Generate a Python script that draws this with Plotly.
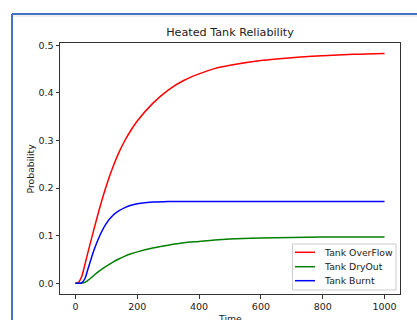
import plotly.graph_objects as go

time = [0, 10, 20, 30, 40, 50, 60, 80, 100, 120, 140, 160, 180, 200, 250, 300,
        350, 400, 450, 500, 600, 700, 800, 900, 1000]
overflow = [0.0, 0.002, 0.014, 0.038, 0.064, 0.089, 0.114, 0.162, 0.205, 0.242, 0.274,
            0.300, 0.322, 0.341, 0.378, 0.406, 0.426, 0.440, 0.451, 0.458, 0.468,
            0.474, 0.478, 0.481, 0.483]
dryout = [0.0, 0.0, 0.0005, 0.002, 0.006, 0.011, 0.017, 0.027, 0.036, 0.044, 0.051,
          0.057, 0.062, 0.066, 0.074, 0.080, 0.085, 0.088, 0.091, 0.093, 0.095,
          0.096, 0.097, 0.097, 0.097]
burnt = [0.0, 0.0, 0.001, 0.009, 0.029, 0.050, 0.070, 0.102, 0.126, 0.142, 0.152,
         0.159, 0.164, 0.167, 0.1708, 0.1716, 0.172, 0.172, 0.172, 0.172, 0.172,
         0.172, 0.172, 0.172, 0.172]

names = ["Tank OverFlow", "Tank DryOut", "Tank Burnt"]
colors = ["#ff0000", "#008000", "#0000ff"]
x_ticks = [0, 200, 400, 600, 800, 1000]
y_ticks = [0.0, 0.1, 0.2, 0.3, 0.4, 0.5]

FONT = "DejaVu Sans"
TXT = "#222222"
fig = go.Figure()
for name, ys, c in zip(names, [overflow, dryout, burnt], colors):
    fig.add_trace(go.Scatter(x=time, y=ys, mode="lines", name=name, showlegend=False,
                             line=dict(color=c, width=1.5, shape="spline", smoothing=1.0)))

W, H = 417, 320
L, R, T, B = 60, 400, 43, 294
pw, ph = R - L, B - T

def px(x):
    return (x - L) / pw

def py(y):
    return (B - y) / ph

axis_common = dict(showline=True, linecolor="#333333", linewidth=1, mirror=True,
                   ticks="outside", ticklen=3.5, tickcolor="#333333", showgrid=False,
                   zeroline=False, tickfont=dict(family=FONT, size=9.5, color=TXT))

shapes = [
    dict(type="line", xref="paper", yref="paper", x0=px(12), x1=px(12),
         y0=py(14), y1=py(322), line=dict(color="#4472c4", width=2)),
    dict(type="line", xref="paper", yref="paper", x0=px(12), x1=px(420),
         y0=py(14), y1=py(14), line=dict(color="#4472c4", width=2)),
    dict(type="line", xref="paper", yref="paper", x0=px(13), x1=px(420),
         y0=py(16), y1=py(16), line=dict(color="#dddddd", width=1)),
    # legend box
    dict(type="rect", xref="paper", yref="paper", x0=px(292.5), x1=px(396),
         y0=py(290), y1=py(244), line=dict(color="#cccccc", width=1),
         fillcolor="rgba(255,255,255,0.85)", layer="above"),
]
annotations = [
    dict(text="Probability", x=px(30), y=0.5, xref="paper", yref="paper",
         textangle=-90, showarrow=False, xanchor="center", yanchor="middle",
         font=dict(family=FONT, size=9.3, color=TXT)),
    dict(text="Time", x=0.5, y=py(311), xref="paper", yref="paper",
         showarrow=False, xanchor="center", yanchor="top",
         font=dict(family=FONT, size=9.3, color=TXT)),
]
legend_y = [252.3, 266.7, 280.7]
for name, c, ly in zip(names, colors, legend_y):
    shapes.append(dict(type="line", xref="paper", yref="paper", x0=px(295), x1=px(315),
                       y0=py(ly), y1=py(ly), line=dict(color=c, width=1.5), layer="above"))
    annotations.append(dict(text=name, x=px(322), y=py(ly), xref="paper", yref="paper",
                            showarrow=False, xanchor="left", yanchor="middle",
                            font=dict(family=FONT, size=9.3, color=TXT)))

fig.update_layout(
    width=W, height=H,
    margin=dict(l=L, r=W - R, t=T, b=H - B, autoexpand=False),
    paper_bgcolor="white", plot_bgcolor="white",
    font=dict(family=FONT, size=9.3, color=TXT),
    title=dict(text="Heated Tank Reliability", x=(230) / W, xanchor="center",
               y=1 - 32 / H, yanchor="middle", font=dict(family=FONT, size=11.2, color=TXT)),
    xaxis=dict(range=[-50, 1050], tickvals=x_ticks, automargin=False, **axis_common),
    yaxis=dict(range=[-0.0225, 0.5048], tickvals=y_ticks, tickformat=".1f", automargin=False,
               **axis_common),
    showlegend=False,
    shapes=shapes,
    annotations=annotations,
)

fig.write_html("out.html", config={"displayModeBar": False},
               post_script="document.body.style.margin='0';")
